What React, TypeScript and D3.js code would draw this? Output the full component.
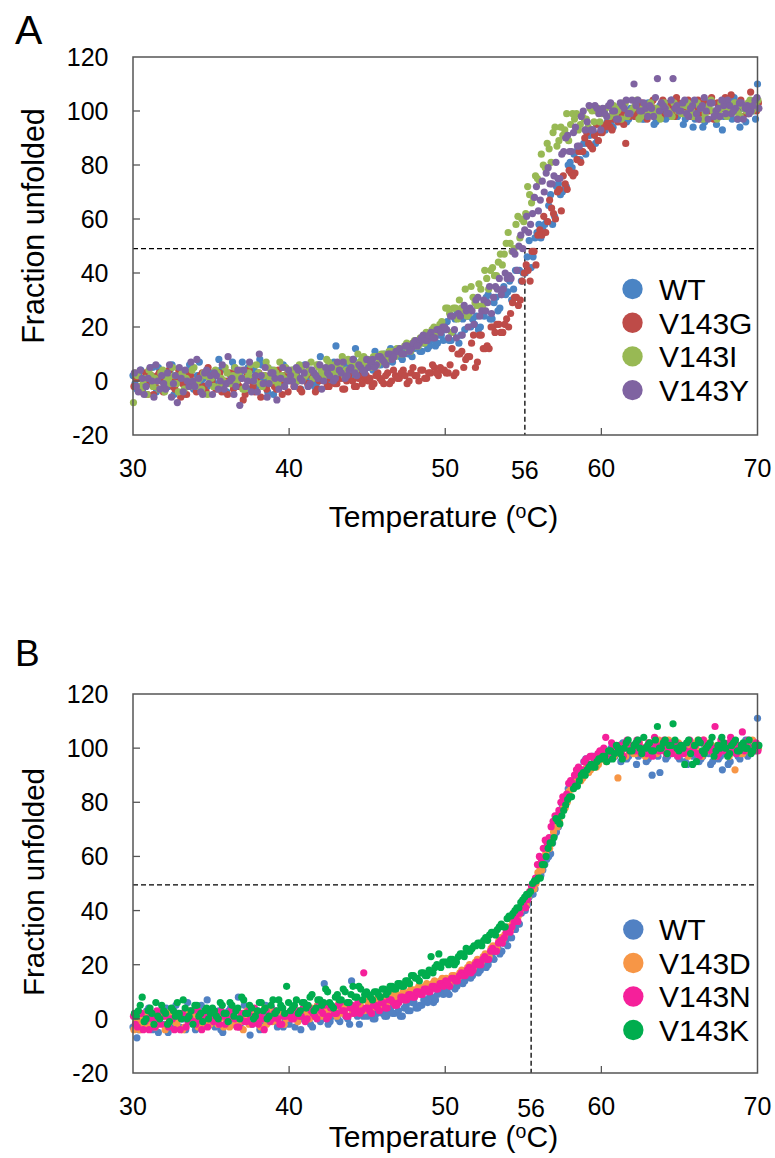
import React from 'react';
import * as d3 from 'd3';

// ---------- data ----------
const TEMP_STEP = 0.25; // °C between successive readings of one scan
const X_TICKS = [30, 40, 50, 60, 70];
const Y_TICKS = [-20, 0, 20, 40, 60, 80, 100, 120];

// Panel A — scan 1 (from 30 °C) and scan 2 (from 30.125 °C)
const wtA = [
  2, -3, 4, -1, 0, 5, -4, 1, 3, -2, 6, -1, 2, -5, 0, 4, -3, 7, 1, -2,
  3, -1, 8, 0, -4, 2, 5, -2, 7, 1, -3, 4, 0, 6, -1, 2, -5, 3, 1, 5,
  0, 4, 2, -3, 6, 1, 3, -1, 9, 2, 5, 0, 13, 3, 1, 6, 2, 12, 4, 7,
  5, 8, 11, 6, 9, 7, 12, 9, 11, 8, 13, 10, 12, 15, 11, 14, 13, 16, 14, 17,
  19, 15, 18, 26, 17, 19, 24, 23, 24, 20, 24, 32, 23, 31, 27, 35, 33, 30, 41, 41,
  40, 46, 42, 53, 58, 56, 59, 69, 61, 73, 70, 72, 81, 84, 82, 85, 84, 91, 92, 89,
  95, 93, 97, 94, 98, 96, 99, 97, 100, 98, 101, 97, 103, 99, 96, 102, 100, 98, 104, 101,
  99, 95, 103, 100, 97, 102, 94, 101, 104, 98, 100, 93, 102, 99, 105, 97, 101, 96, 103, 100,
  110,
];
const wtA2 = [
  -1, 3, -4, 0, 2, -2, 5, -3, 1, 4, -5, 0, 3, -1, 6, -3, 2, 0, -4, 3,
  1, -2, 4, -4, 0, 7, -1, 3, -3, 5, 0, -2, 8, 1, -4, 4, 0, -1, 6, 2,
  3, -1, 5, 1, 0, 4, -2, 6, 2, 3, 0, 7, 2, 5, 4, 1, 8, 3, 6, 5,
  7, 4, 9, 6, 10, 8, 7, 11, 9, 12, 10, 9, 13, 11, 14, 12, 15, 13, 17, 15,
  22, 15, 23, 14, 23, 24, 20, 21, 19, 25, 31, 23, 29, 26, 32, 32, 37, 34, 41, 37,
  40, 52, 46, 55, 53, 58, 65, 58, 72, 69, 71, 80, 79, 85, 82, 88, 88, 93, 88, 95,
  94, 96, 95, 98, 97, 99, 96, 101, 98, 100, 97, 102, 99, 95, 101, 100, 97, 103, 99, 98,
  101, 97, 100, 94, 102, 99, 96, 103, 100, 95, 101, 98, 104, 97, 100, 94, 102, 99, 101, 97,
];
const v143G = [
  -2, 1, -4, 3, -1, -5, 2, 0, -3, 4, -2, 1, -6, 0, 3, -1, -4, 2, -2, 5,
  0, -3, 3, -1, -5, 1, 4, -2, -7, 2, 0, -4, 3, -1, -3, 1, -2, 4, -5, 0,
  2, -2, 0, -4, 3, -1, 1, -3, 2, 0, -2, 4, -1, 1, -3, 2, 0, -2, 3, 1,
  0, -2, 2, 1, -1, 3, 0, 2, 1, 4, -1, 3, 2, 0, 4, 1, 3, 5, 2, 4,
  3, 6, 2, 10, 11, 8, 9, 17, 7, 17, 12, 12, 20, 21, 18, 21, 20, 29, 31, 30,
  40, 41, 48, 43, 56, 61, 59, 64, 60, 71, 76, 71, 77, 77, 85, 85, 92, 87, 91, 89,
  92, 95, 94, 97, 96, 99, 88, 98, 101, 100, 103, 99, 102, 104, 100, 98, 103, 101, 99, 105,
  102, 100, 104, 99, 101, 97, 103, 100, 105, 98, 102, 101, 99, 106, 100, 103, 98, 102, 107, 101,
  103,
];
const v143G2 = [
  1, -3, 0, -5, 2, -2, 3, -4, 0, 1, -3, 4, -1, -5, 2, 0, -2, 3, -4, 1,
  -2, 2, -4, 0, 3, -3, -1, 1, -5, 4, -2, 0, -6, 2, -1, 3, -3, 0, 2, -4,
  0, 3, -3, 1, -1, 2, -4, 0, 3, -2, 1, -1, 2, -3, 0, 4, -2, 1, -1, 2,
  1, -1, 3, 0, 2, -1, 4, 1, 3, 2, 0, 5, 2, 4, 1, 3, 6, 3, 5, 4,
  3, 12, 3, 10, 5, 9, 14, 5, 17, 12, 13, 20, 18, 21, 18, 23, 25, 31, 28, 37,
  43, 37, 48, 54, 54, 55, 67, 62, 70, 63, 73, 78, 76, 82, 81, 90, 88, 86, 95, 92,
  94, 96, 93, 98, 97, 95, 99, 100, 98, 102, 100, 97, 103, 101, 99, 104, 100, 102, 98, 103,
  100, 103, 98, 101, 104, 99, 102, 100, 97, 103, 101, 105, 99, 102, 100, 104, 101, 99, 103, 100,
];
const v143I = [
  -8, 2, -3, 1, 4, -2, 0, 3, -4, 1, 5, -1, 2, -3, 0, 4, -2, 1, 3, -5,
  1, 4, -2, 0, 3, -1, 5, 2, -3, 1, 6, 0, 3, -2, 7, 1, 4, -1, 2, 5,
  1, 3, 0, 5, 2, 4, 1, 6, 3, 2, 7, 4, 3, 6, 2, 8, 5, 4, 7, 9,
  8, 5, 9, 7, 10, 8, 11, 9, 12, 10, 14, 11, 15, 13, 16, 18, 17, 20, 19, 22,
  27, 25, 27, 23, 27, 34, 25, 31, 28, 34, 41, 34, 42, 39, 47, 47, 55, 48, 58, 53,
  59, 72, 66, 76, 74, 80, 88, 81, 94, 89, 91, 99, 95, 97, 93, 98, 97, 101, 96, 101,
  99, 101, 98, 102, 100, 97, 103, 99, 101, 104, 98, 100, 102, 99, 101, 97, 103, 100, 98, 102,
  101, 99, 103, 100, 98, 102, 97, 101, 104, 99, 100, 102, 98, 101, 103, 99, 102, 100, 104, 101,
  104,
];
const v143I2 = [
  3, -2, 0, -5, 2, 1, -3, 4, 0, -1, 2, -4, 3, 1, -2, 5, 0, -3, 2, 1,
  -2, 3, 1, 5, -1, 2, 0, 4, -3, 3, 1, 6, -1, 2, 5, 0, 3, 7, 1, 4,
  4, 2, 6, 1, 3, 7, 2, 5, 4, 8, 3, 6, 5, 9, 4, 7, 6, 10, 8, 6,
  7, 9, 6, 10, 8, 11, 9, 12, 10, 13, 11, 14, 13, 16, 14, 17, 19, 18, 21, 20,
  27, 18, 27, 30, 26, 24, 35, 29, 36, 28, 38, 41, 39, 44, 43, 51, 51, 49, 61, 60,
  62, 69, 68, 75, 84, 79, 86, 92, 87, 94, 93, 89, 99, 99, 95, 97, 94, 100, 100, 96,
  100, 98, 102, 99, 101, 103, 98, 100, 102, 97, 101, 99, 103, 100, 98, 102, 101, 99, 103, 100,
  99, 102, 100, 98, 103, 101, 99, 102, 100, 97, 103, 101, 99, 102, 100, 98, 101, 103, 100, 102,
];
const v143Y = [
  3, -4, 1, -2, 5, -6, 0, 2, -3, 6, -1, -8, 1, 4, -2, 0, 8, -4, 3, -1,
  -5, 2, 0, -3, 9, 1, -2, -9, 4, 0, -4, 2, 10, -1, -6, 3, 1, -3, 5, 0,
  2, -2, 4, 0, 6, -1, 3, 1, -3, 5, 2, 0, 7, 3, 1, 4, 8, 2, 5, 3,
  5, 8, 6, 9, 7, 10, 8, 11, 12, 10, 13, 12, 15, 14, 17, 15, 18, 16, 19, 20,
  19, 24, 19, 25, 17, 26, 27, 21, 31, 26, 26, 35, 31, 34, 32, 40, 39, 48, 41, 54,
  56, 55, 62, 72, 67, 70, 79, 73, 81, 75, 85, 91, 85, 94, 87, 100, 96, 93, 102, 99,
  101, 98, 103, 100, 97, 102, 104, 99, 110, 104, 100, 101, 102, 98, 112, 103, 101, 99, 112, 102,
  100, 104, 98, 102, 99, 101, 105, 97, 103, 100, 98, 102, 104, 99, 101, 103, 97, 102, 100, 104,
  101,
];
const v143Y2 = [
  -2, 4, -5, 1, 0, 6, -3, -1, 3, -6, 2, 5, -4, 0, 7, -2, 1, -5, 4, 2,
  3, -3, 6, -1, 0, -5, 4, 1, -2, 7, 0, -4, 2, 5, -1, 3, -7, 1, -2, 4,
  0, 5, 1, 3, -2, 4, 2, 6, 0, 3, 5, 1, 4, 7, 2, 5, 3, 6, 4, 8,
  7, 5, 9, 8, 6, 10, 9, 11, 10, 13, 11, 14, 13, 16, 15, 17, 16, 19, 18, 20,
  16, 24, 16, 24, 28, 20, 26, 30, 24, 30, 29, 25, 35, 38, 34, 38, 38, 47, 50, 49,
  61, 58, 68, 63, 74, 77, 73, 76, 75, 84, 90, 85, 92, 87, 98, 93, 102, 93, 101, 93,
  99, 102, 100, 97, 103, 101, 99, 104, 102, 100, 103, 98, 101, 105, 100, 102, 99, 104, 101, 100,
  103, 99, 101, 104, 97, 102, 100, 103, 98, 101, 104, 99, 102, 100, 97, 103, 101, 99, 102, 105,
];

// Panel B — scan 1 and scan 2
const wtB = [
  -3, -7, 2, -1, 4, -4, 0, 3, -2, -5, 1, 5, -3, 0, 6, -1, -4, 2, -2, 7,
  0, -3, 3, -5, 1, 4, -2, 8, -1, 2, -6, 0, 3, -2, 5, -1, 1, -3, 2, 0,
  -2, 3, 0, -4, 1, 4, -3, 2, -1, 13, -2, 1, 3, -1, 4, 0, 14, 2, -2, 1,
  1, 3, 0, 4, 2, 1, 4, 2, 3, 1, 5, 3, 6, 4, 5, 7, 8, 6, 9, 10,
  11, 9, 13, 12, 15, 14, 17, 16, 19, 18, 21, 20, 23, 25, 24, 28, 27, 30, 33, 35,
  41, 42, 47, 48, 54, 55, 59, 61, 68, 71, 79, 81, 87, 88, 92, 91, 96, 94, 97, 95,
  97, 99, 96, 100, 98, 95, 101, 97, 99, 94, 100, 98, 96, 90, 99, 91, 100, 97, 102, 98,
  96, 99, 94, 98, 100, 95, 97, 101, 94, 99, 96, 92, 98, 95, 100, 97, 99, 103, 98, 100,
  111,
];
const wtB2 = [
  1, -4, -1, 3, -2, 2, -5, 1, 4, -1, -3, 2, 0, -4, 3, 1, -2, 5, -1, 2,
  -2, 2, -4, 1, 3, -1, 0, -3, 5, 1, -2, 3, -4, 2, 0, 4, -1, 2, -3, 1,
  1, -3, 2, 0, 3, -2, 1, 4, 0, 2, -1, 3, 0, 5, 1, -2, 3, 1, 4, 2,
  3, 0, 2, 4, 1, 3, 2, 5, 1, 4, 3, 6, 4, 5, 7, 6, 8, 7, 10, 9,
  10, 12, 11, 14, 13, 16, 15, 18, 17, 20, 19, 22, 22, 26, 25, 29, 30, 34, 35, 39,
  40, 45, 46, 52, 53, 57, 60, 65, 69, 76, 79, 85, 86, 90, 91, 95, 94, 97, 95, 98,
  98, 96, 100, 97, 99, 102, 96, 98, 100, 97, 99, 95, 101, 98, 97, 100, 96, 99, 101, 97,
  98, 95, 100, 97, 99, 96, 101, 98, 95, 100, 97, 99, 94, 101, 98, 96, 100, 97, 101, 99,
];
const v143D = [
  -4, 0, -2, 2, -3, 1, -1, 3, -4, 0, 2, -2, 1, -3, 3, 0, -1, 2, -2, 1,
  3, -1, 0, -3, 2, 1, -2, 0, -4, 3, 1, -1, 2, 0, -2, 3, 1, -1, 2, 0,
  1, 3, -1, 2, 4, 0, 2, 5, 1, 3, 2, 4, 1, 5, 3, 6, 2, 4, 5, 3,
  6, 4, 7, 5, 8, 6, 9, 7, 8, 10, 8, 11, 9, 12, 10, 13, 11, 14, 12, 15,
  15, 13, 16, 15, 18, 17, 20, 19, 22, 21, 24, 23, 27, 26, 30, 31, 34, 36, 37, 40,
  43, 45, 48, 50, 56, 57, 63, 65, 71, 73, 79, 80, 86, 86, 90, 89, 93, 92, 95, 94,
  96, 95, 98, 97, 89, 99, 97, 100, 98, 101, 99, 97, 102, 100, 98, 101, 99, 103, 100, 98,
  101, 99, 97, 102, 100, 98, 103, 99, 101, 97, 100, 102, 99, 101, 92, 100, 98, 102, 99, 101,
  100,
];
const v143D2 = [
  -1, -4, 1, -2, 2, -3, 0, 1, -2, 3, -1, 0, -4, 2, -1, 1, -3, 0, 3, -2,
  1, -2, 2, 0, -3, 1, 3, -1, 0, -2, 2, 0, -3, 4, 1, -1, 0, 3, -2, 2,
  2, 0, 3, 1, 2, 4, 1, 3, 5, 2, 4, 3, 6, 2, 5, 4, 3, 6, 4, 7,
  5, 7, 6, 5, 7, 8, 6, 9, 8, 7, 10, 9, 11, 10, 12, 11, 13, 12, 14, 13,
  14, 16, 15, 17, 17, 19, 18, 21, 21, 23, 23, 26, 26, 29, 29, 33, 33, 37, 38, 41,
  42, 47, 48, 54, 55, 61, 63, 69, 71, 77, 78, 84, 85, 89, 88, 92, 91, 94, 93, 96,
  97, 96, 99, 98, 100, 97, 101, 99, 98, 102, 100, 98, 101, 99, 103, 100, 98, 101, 99, 102,
  100, 98, 101, 99, 103, 97, 100, 102, 98, 101, 99, 100, 97, 102, 100, 98, 101, 99, 103, 100,
];
const v143N = [
  1, -3, 2, -1, -4, 0, 3, -2, 1, -3, 0, 2, -4, 1, -1, 3, -2, 0, 2, -3,
  0, 2, -2, 1, -1, 3, 0, -3, 2, -1, 1, 4, -2, 0, 3, -1, 2, 0, -2, 1,
  2, 0, 3, 1, -1, 4, 2, 0, 3, 5, 1, 4, 2, 6, 3, 1, 5, 4, 2, 17,
  4, 2, 5, 3, 6, 4, 7, 5, 6, 8, 7, 9, 8, 10, 9, 11, 10, 12, 11, 13,
  14, 12, 15, 14, 17, 16, 19, 18, 21, 20, 23, 22, 26, 25, 29, 30, 33, 34, 37, 39,
  42, 44, 49, 52, 60, 63, 65, 71, 75, 77, 82, 83, 88, 90, 93, 92, 96, 97, 95, 98,
  99, 104, 97, 101, 100, 98, 102, 99, 101, 103, 98, 100, 102, 97, 101, 99, 103, 100, 98, 102,
  100, 98, 102, 99, 101, 97, 103, 100, 99, 108, 98, 101, 100, 104, 99, 101, 106, 102, 100, 99,
  99,
];
const v143N2 = [
  -2, 2, -4, 0, 1, -3, -1, 3, -2, 0, -4, 1, 2, -3, 0, -1, 3, -4, 1, 0,
  -1, 1, 3, -2, 0, 2, -3, 1, -1, 3, -2, 0, 2, -4, 1, 0, 3, -2, 1, 2,
  0, 2, 1, 4, 0, 3, 1, 5, 2, 0, 4, 2, 5, 3, 1, 4, 2, 6, 3, 4,
  3, 5, 4, 6, 4, 7, 6, 5, 8, 7, 9, 8, 10, 9, 11, 10, 12, 11, 13, 12,
  13, 15, 14, 16, 16, 18, 17, 20, 20, 22, 22, 25, 25, 28, 28, 32, 32, 36, 36, 41,
  41, 47, 50, 57, 59, 66, 67, 73, 75, 80, 81, 87, 87, 92, 91, 95, 94, 97, 96, 99,
  100, 98, 102, 99, 101, 97, 103, 100, 99, 102, 100, 98, 101, 104, 99, 101, 98, 102, 100, 97,
  101, 99, 103, 100, 98, 102, 99, 101, 100, 97, 103, 99, 102, 100, 98, 101, 99, 103, 100, 102,
];
const v143K = [
  2, 3, 8, 0, 4, -2, 1, 5, 2, -1, 3, 6, 0, 4, 1, -2, 5, 2, 3, 0,
  4, 1, 6, 2, -1, 5, 3, 0, 7, 2, 4, 1, 6, 3, 0, 5, 2, 7, 4, 12,
  3, 5, 2, 6, 4, 8, 3, 7, 5, 11, 6, 4, 9, 7, 10, 6, 12, 8, 11, 9,
  9, 7, 10, 8, 11, 10, 12, 11, 13, 12, 14, 16, 15, 14, 17, 16, 23, 19, 24, 21,
  21, 22, 20, 23, 24, 26, 25, 27, 28, 27, 30, 31, 32, 33, 35, 34, 38, 39, 41, 43,
  45, 46, 50, 51, 52, 57, 63, 65, 74, 72, 77, 81, 82, 86, 88, 91, 92, 94, 93, 96,
  97, 95, 99, 98, 100, 96, 102, 99, 101, 103, 98, 100, 102, 99, 108, 100, 103, 101, 109, 100,
  101, 94, 103, 94, 95, 102, 98, 101, 104, 99, 100, 102, 97, 101, 103, 99, 102, 100, 98, 101,
  101,
];
const v143K2 = [
  1, 5, -1, 3, 2, 6, 0, 3, -2, 4, 1, 2, 7, 0, 3, 5, 1, -1, 4, 2,
  3, 0, 5, 2, 6, 1, 4, 8, 2, 5, 0, 3, 6, 4, 1, 7, 3, 5, 2, 6,
  4, 7, 3, 6, 5, 9, 4, 7, 6, 10, 5, 8, 7, 11, 6, 9, 8, 12, 7, 10,
  8, 10, 9, 11, 9, 12, 11, 13, 12, 14, 13, 16, 15, 17, 16, 18, 17, 20, 19, 21,
  20, 22, 21, 24, 23, 25, 26, 27, 28, 29, 29, 32, 31, 34, 34, 37, 38, 40, 41, 44,
  46, 47, 51, 52, 57, 60, 65, 67, 73, 75, 79, 82, 85, 86, 90, 90, 93, 93, 95, 96,
  97, 99, 96, 101, 98, 100, 103, 99, 102, 100, 104, 101, 99, 103, 100, 102, 98, 101, 103, 99,
  100, 102, 98, 101, 103, 99, 100, 102, 97, 101, 104, 100, 98, 102, 99, 101, 100, 103, 99, 101,
];

type Scan = { start: number; values: number[] };
type Series = { name: string; color: string; scans: Scan[] };

const seriesA: Series[] = [
  { name: 'WT', color: '#4a84c4', scans: [{ start: 30.0, values: wtA }, { start: 30.125, values: wtA2 }] },
  { name: 'V143G', color: '#be4b48', scans: [{ start: 30.06, values: v143G }, { start: 30.185, values: v143G2 }] },
  { name: 'V143I', color: '#98b954', scans: [{ start: 30.03, values: v143I }, { start: 30.155, values: v143I2 }] },
  { name: 'V143Y', color: '#7f63a1', scans: [{ start: 30.09, values: v143Y }, { start: 30.215, values: v143Y2 }] },
];
const seriesB: Series[] = [
  { name: 'WT', color: '#5181c3', scans: [{ start: 30.0, values: wtB }, { start: 30.125, values: wtB2 }] },
  { name: 'V143D', color: '#f79646', scans: [{ start: 30.06, values: v143D }, { start: 30.185, values: v143D2 }] },
  { name: 'V143N', color: '#f5209a', scans: [{ start: 30.03, values: v143N }, { start: 30.155, values: v143N2 }] },
  { name: 'V143K', color: '#00ad4e', scans: [{ start: 30.09, values: v143K }, { start: 30.215, values: v143K2 }] },
];

// midpoint guides (dashed); labelled "56" on the axis
const midA = { t: 55.1, v: 49, label: '56' };
const midB = { t: 55.5, v: 49.5, label: '56' };

// ---------- layout ----------
const FONT = 'Liberation Sans, Arial, Helvetica, sans-serif';
const LEFT = 133;
const RIGHT = 757.5;
const AXIS_COLOR = '#555';

function Panel(props: {
  letter: string;
  letterY: number;
  letterSize: number;
  top: number;
  bottom: number;
  series: Series[];
  mid: { t: number; v: number; label: string };
  legendY0: number;
  legendStep: number;
  legendDotX: number;
  yTitleCenter: number;
  yTitleSize: number;
  xTitleBaseline: number;
}) {
  const { letter, letterY, letterSize, top, bottom, series, mid } = props;
  const x = d3.scaleLinear().domain([30, 70]).range([LEFT, RIGHT]);
  const y = d3.scaleLinear().domain([-20, 120]).range([bottom, top]);
  const tickLen = 7;

  return (
    <g fontFamily={FONT} fill="#000">
      <text x={15} y={letterY} fontSize={letterSize}>{letter}</text>

      {/* dashed guides */}
      <line x1={LEFT} x2={RIGHT} y1={y(mid.v)} y2={y(mid.v)} stroke="#000" strokeWidth={1.3} strokeDasharray="5,3" />
      <line x1={x(mid.t)} x2={x(mid.t)} y1={y(mid.v)} y2={bottom} stroke="#000" strokeWidth={1.3} strokeDasharray="5,3" />

      {/* points */}
      {series.map((s) => (
        <g key={s.name} fill={s.color}>
          {s.scans.map((sc, k) =>
            sc.values.map((v, i) => (
              <circle key={k + '-' + i} cx={x(sc.start + i * TEMP_STEP)} cy={y(v)} r={3.6} />
            ))
          )}
        </g>
      ))}

      {/* frame */}
      <rect x={LEFT} y={top} width={RIGHT - LEFT} height={bottom - top} fill="none" stroke={AXIS_COLOR} strokeWidth={1.5} />

      {/* y ticks */}
      {Y_TICKS.map((t) => (
        <g key={'y' + t}>
          {t > -20 && t < 120 && (
            <line x1={LEFT} x2={LEFT + tickLen} y1={y(t)} y2={y(t)} stroke={AXIS_COLOR} strokeWidth={1.3} />
          )}
          <text x={108.5} y={y(t)} dy="0.36em" textAnchor="end" fontSize={25}>{t}</text>
        </g>
      ))}

      {/* x ticks */}
      {X_TICKS.map((t) => (
        <g key={'x' + t}>
          {t > 30 && t < 70 && (
            <line x1={x(t)} x2={x(t)} y1={bottom} y2={bottom - tickLen} stroke={AXIS_COLOR} strokeWidth={1.3} />
          )}
          <text x={x(t)} y={bottom + 41.7} textAnchor="middle" fontSize={25}>{t}</text>
        </g>
      ))}
      <text x={x(mid.t)} y={bottom + 43.5} textAnchor="middle" fontSize={25}>{mid.label}</text>

      {/* axis titles */}
      <text
        transform={`translate(44.3,${props.yTitleCenter}) rotate(-90)`}
        textAnchor="middle"
        fontSize={props.yTitleSize}
      >
        Fraction unfolded
      </text>
      <text x={443.5} y={props.xTitleBaseline} textAnchor="middle" fontSize={30}>
        Temperature (<tspan fontSize={19.5} dy={-9}>o</tspan><tspan dy={9}>C)</tspan>
      </text>

      {/* legend */}
      {series.map((s, i) => {
        const cy = props.legendY0 + i * props.legendStep;
        return (
          <g key={'lg' + s.name}>
            <circle cx={props.legendDotX} cy={cy} r={10.2} fill={s.color} />
            <text x={659} y={cy} dy="0.36em" fontSize={30}>{s.name}</text>
          </g>
        );
      })}
    </g>
  );
}

export default function App() {
  return (
    <svg
      width={775}
      height={1158}
      viewBox="0 0 775 1158"
      style={{ position: 'absolute', left: 0, top: 0, background: '#fff' }}
    >
      <rect x={0} y={0} width={775} height={1158} fill="#fff" />
      <Panel
        letter="A"
        letterY={43.5}
        letterSize={41}
        top={57}
        bottom={435}
        series={seriesA}
        mid={midA}
        legendY0={289}
        legendStep={33.7}
        legendDotX={632.5}
        yTitleCenter={226}
        yTitleSize={30.5}
        xTitleBaseline={527}
      />
      <Panel
        letter="B"
        letterY={666}
        letterSize={37}
        top={694}
        bottom={1073}
        series={seriesB}
        mid={midB}
        legendY0={929.5}
        legendStep={33.5}
        legendDotX={633.3}
        yTitleCenter={882}
        yTitleSize={29.5}
        xTitleBaseline={1147}
      />
    </svg>
  );
}
